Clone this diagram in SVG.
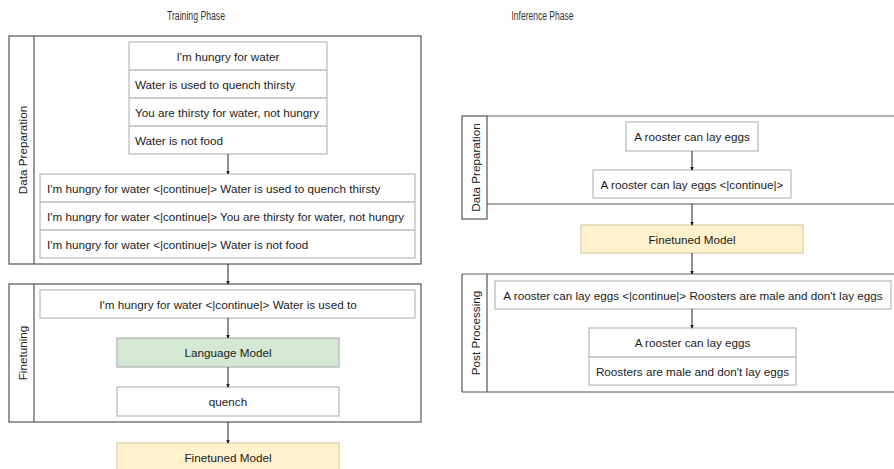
<svg xmlns="http://www.w3.org/2000/svg" width="894" height="469" viewBox="0 0 894 469">
<defs>
<style>
text{font-family:"Liberation Sans",Arial,sans-serif;font-size:11.7px;fill:#222;}
.title{font-size:12px;fill:#333;}
.c{text-anchor:middle;dominant-baseline:central;}
.l{dominant-baseline:central;}
.cont{fill:none;stroke:#555;stroke-width:1.2;}
.lane{fill:#fff;stroke:#555;stroke-width:1.2;}
.box{fill:#fff;stroke:#bdbdbd;stroke-width:1.3;}
.sep{stroke:#bdbdbd;stroke-width:1.3;}
.green{fill:#d5e8d4;stroke:#b5b5b5;stroke-width:1.3;}
.yellow{fill:#fff2cc;stroke:#d6cfa8;stroke-width:1.3;}
.edge{stroke:#222;stroke-width:1;fill:none;marker-end:url(#ah);}
</style>
<marker id="ah" viewBox="0 0 6 6" refX="5" refY="3" markerWidth="4" markerHeight="4" orient="auto" markerUnits="userSpaceOnUse">
<path d="M0,0 L6,3 L0,6 Z" fill="#222"/>
</marker>
</defs>
<rect width="894" height="469" fill="#fff"/>

<text class="title c" x="196" y="16" textLength="58" lengthAdjust="spacingAndGlyphs">Training Phase</text>
<text class="title c" x="542.5" y="16" textLength="62" lengthAdjust="spacingAndGlyphs">Inference Phase</text>

<g id="train-dataprep">
<rect class="cont" x="9" y="36" width="412" height="228"/>
<line x1="34" y1="36" x2="34" y2="264" stroke="#555" stroke-width="1.2"/>
<text class="c" transform="translate(22,150) rotate(-90)">Data Preparation</text>
</g>
<g id="train-sentences">
<rect class="box" x="129" y="42" width="198" height="112"/>
<line class="sep" x1="129" y1="70" x2="327" y2="70"/>
<line class="sep" x1="129" y1="98" x2="327" y2="98"/>
<line class="sep" x1="129" y1="126" x2="327" y2="126"/>
<text class="c" x="228" y="56">I'm hungry for water</text>
<text class="l" x="135" y="84">Water is used to quench thirsty</text>
<text class="l" x="135" y="112">You are thirsty for water, not hungry</text>
<text class="l" x="135" y="140">Water is not food</text>
</g>
<g id="train-pairs">
<rect class="box" x="40" y="174" width="375" height="84"/>
<line class="sep" x1="40" y1="202" x2="415" y2="202"/>
<line class="sep" x1="40" y1="230" x2="415" y2="230"/>
<text class="l" x="47" y="188">I'm hungry for water &lt;|continue|&gt; Water is used to quench thirsty</text>
<text class="l" x="47" y="216">I'm hungry for water &lt;|continue|&gt; You are thirsty for water, not hungry</text>
<text class="l" x="47" y="244">I'm hungry for water &lt;|continue|&gt; Water is not food</text>
</g>

<g id="train-finetuning">
<rect class="cont" x="9" y="284" width="412" height="138"/>
<line x1="34" y1="284" x2="34" y2="422" stroke="#555" stroke-width="1.2"/>
<text class="c" transform="translate(22,353) rotate(-90)">Finetuning</text>
</g>
<g id="train-input">
<rect class="box" x="40" y="290" width="375" height="28"/>
<text class="c" x="228" y="304">I'm hungry for water &lt;|continue|&gt; Water is used to</text>
</g>
<g id="train-lm">
<rect class="green" x="117" y="338" width="222" height="29"/>
<text class="c" x="228" y="352.5">Language Model</text>
</g>
<g id="train-quench">
<rect class="box" x="117" y="387" width="222" height="29"/>
<text class="c" x="228" y="401.5">quench</text>
</g>
<g id="train-finetuned">
<rect class="yellow" x="117" y="443" width="222" height="30"/>
<text class="c" x="228" y="457">Finetuned Model</text>
</g>

<g id="inf-dataprep">
<line x1="487" y1="116" x2="900" y2="116" stroke="#999" stroke-width="1.5"/>
<line x1="487" y1="204" x2="900" y2="204" stroke="#555" stroke-width="1.2"/>
<rect class="lane" x="462" y="116" width="25" height="103"/>
<text class="c" transform="translate(475,167.5) rotate(-90)">Data Preparation</text>
</g>
<g id="inf-input">
<rect class="box" x="626" y="122" width="132" height="29"/>
<text class="c" x="692" y="136.5">A rooster can lay eggs</text>
</g>
<g id="inf-input-cont">
<rect class="box" x="593" y="170" width="198" height="28"/>
<text class="c" x="692" y="184">A rooster can lay eggs &lt;|continue|&gt;</text>
</g>
<g id="inf-finetuned">
<rect class="yellow" x="581" y="225" width="222" height="28"/>
<text class="c" x="692" y="239">Finetuned Model</text>
</g>
<g id="inf-postproc">
<line x1="462" y1="274" x2="900" y2="274" stroke="#999" stroke-width="1.5"/>
<line x1="462" y1="392" x2="900" y2="392" stroke="#555" stroke-width="1.2"/>
<line x1="462" y1="274" x2="462" y2="392" stroke="#555" stroke-width="1.2"/>
<line x1="487" y1="274" x2="487" y2="392" stroke="#555" stroke-width="1.2"/>
<text class="c" transform="translate(475,333) rotate(-90)">Post Processing</text>
</g>
<g id="inf-output">
<rect class="box" x="495" y="281" width="396" height="28"/>
<text class="c" x="693" y="295">A rooster can lay eggs &lt;|continue|&gt; Roosters are male and don't lay eggs</text>
</g>
<g id="inf-split">
<rect class="box" x="589" y="328" width="207" height="57"/>
<line class="sep" x1="589" y1="357" x2="796" y2="357"/>
<text class="c" x="692.5" y="342.5">A rooster can lay eggs</text>
<text class="c" x="692.5" y="371">Roosters are male and don't lay eggs</text>
</g>

<g id="connectors">
<line class="edge" x1="228" y1="154" x2="228" y2="174"/>
<line class="edge" x1="228" y1="264" x2="228" y2="284"/>
<line class="edge" x1="228" y1="318" x2="228" y2="338"/>
<line class="edge" x1="228" y1="367" x2="228" y2="387"/>
<line class="edge" x1="228" y1="422" x2="228" y2="443"/>
<line class="edge" x1="692" y1="151" x2="692" y2="170"/>
<line class="edge" x1="692" y1="204" x2="692" y2="225"/>
<line class="edge" x1="692" y1="253" x2="692" y2="274"/>
<line class="edge" x1="692" y1="309" x2="692" y2="328"/>
</g>
</svg>
